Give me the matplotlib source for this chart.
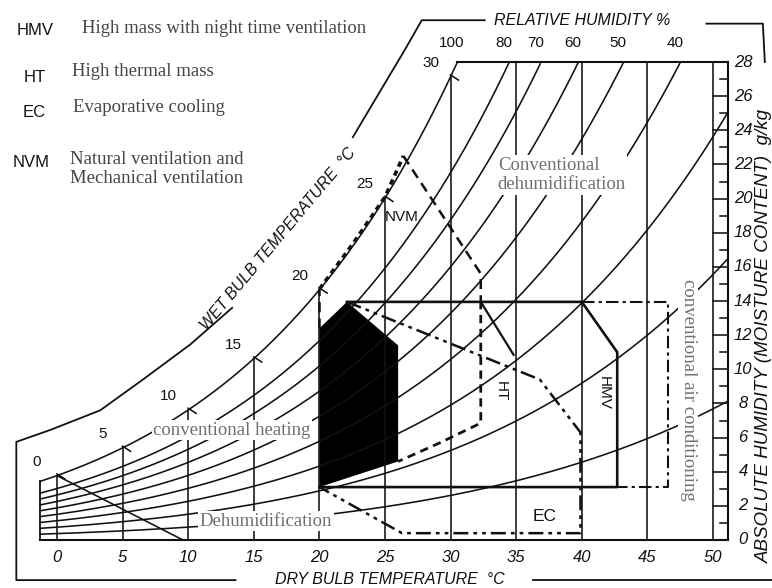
import numpy as np
import matplotlib
matplotlib.use("Agg")
import matplotlib.pyplot as plt

# psychrometric grid
rh_levels = [100, 80, 70, 60, 50, 40, 30, 20, 10]
rh_top_labels = [100, 80, 70, 60, 50, 40]
db_ticks = [0, 5, 10, 15, 20, 25, 30, 35, 40, 45, 50]
w_ticks = list(range(0, 29, 2))
wb_ticks = [0, 5, 10, 15, 20, 25, 30]
wb0_t = [0.0, 9.6]
wb0_w = [3.77, 0.0]

# Givoni zones (dry bulb degC, moisture g/kg)
comfort_t = [20.0, 20.0, 22.1, 26.0, 26.0]
comfort_w = [3.1, 12.4, 13.95, 11.4, 4.6]

nvm_t = [20.0, 20.0, 22.5, 25.0, 26.4, 32.3, 32.3]
nvm_w = [12.4, 14.7, 17.3, 20.1, 22.5, 15.6, 14.0]

ht_dash_t = [32.3, 32.3, 29.2, 26.0]
ht_dash_w = [14.0, 6.85, 5.7, 4.6]
ht_solid_t = [32.3, 34.8]
ht_solid_w = [13.95, 10.85]

mass_t = [22.1, 40.0, 42.7, 42.7, 20.0]
mass_w = [13.95, 13.95, 11.0, 3.1, 3.1]

ac_t = [40.0, 46.6, 46.6, 42.7]
ac_w = [13.95, 13.95, 3.1, 3.1]

ec_t = [22.1, 36.8, 39.9, 39.9, 26.3, 20.0]
ec_w = [13.95, 9.4, 6.3, 0.4, 0.4, 3.1]

# outer frame of the original chart
frame_left_t = [13.6, -3.1, -3.1, -0.5, 3.3, 6.55, 10.15, 13.35]
frame_left_w = [-2.35, -2.35, 5.75, 6.45, 7.6, 9.4, 11.45, 13.6]
frame_top_t = [22.55, 24.6, 26.5, 27.8, 32.6]
frame_top_w = [23.6, 26.25, 28.7, 30.45, 30.45]
frame_right_t = [49.5, 53.8, 53.95]
frame_right_w = [30.25, 30.25, 28.0]
frame_bottom_t = [36.3, 54.6]
frame_bottom_w = [-2.35, -2.35]

legend_abbr = ["HMV", "HT", "EC", "NVM"]
legend_text = ["High mass with night time ventilation", "High thermal mass",
               "Evaporative cooling", "Natural ventilation and\nMechanical ventilation"]

T_LEFT, T_RIGHT, W_TOP = -1.3, 51.14, 28.0
P_ATM = 101.325


def p_sat(t):
    return 0.61094 * np.exp(17.625 * t / (t + 243.04))


def moisture(t, rh):
    pw = rh / 100.0 * p_sat(t)
    return 622.0 * pw / (P_ATM - pw)


sans = "Liberation Sans"
serif = "Liberation Serif"
ink = "#111111"
grey = "#6f6f6f"
grid_lw = 1.15

fig = plt.figure(figsize=(7.72, 5.88), dpi=100)
ax = fig.add_axes([0, 0, 1, 1])
ax.set_xlim(-57 / 13.12, (772 - 57) / 13.12)
ax.set_ylim((540 - 588) / 17.07, 540 / 17.07)
ax.axis("off")

# RH curves
t = np.linspace(T_LEFT, T_RIGHT, 800)
for rh in rh_levels:
    w = moisture(t, rh)
    keep = w <= W_TOP
    ax.plot(t[keep], w[keep], color=ink, lw=grid_lw)
    if rh in rh_top_labels:
        t_end = t[keep][-1]
        ax.annotate(str(rh), (t_end, W_TOP), xytext=(-5, 19), textcoords="offset pixels",
                    ha="center", va="center", fontsize=11, family=sans, color=ink)

# dry bulb verticals
for tb in db_ticks:
    top = min(moisture(tb, 100), W_TOP)
    ax.plot([tb, tb], [0, top], color=ink, lw=grid_lw)
    ax.text(tb, -1.05, str(tb), ha="center", va="center", fontsize=12,
            family=sans, style="italic", color=ink)

# wet bulb scale on saturation curve
for tw in wb_ticks:
    ws = moisture(tw, 100)
    ax.plot([tw, tw + 0.6], [ws + 0.1, ws - 0.2], color=ink, lw=grid_lw)
    ax.annotate(str(tw), (tw, ws), xytext=(-20, 14), textcoords="offset pixels",
                ha="center", va="center", fontsize=11, family=sans, color=ink)
ax.plot(wb0_t, wb0_w, color=ink, lw=grid_lw)

# frame of plot area
ax.plot([T_LEFT, T_RIGHT], [0, 0], color=ink, lw=1.5)
ax.plot([T_LEFT, T_LEFT], [0, moisture(T_LEFT, 100)], color=ink, lw=1.3)
ax.plot([T_RIGHT, T_RIGHT], [0, W_TOP], color=ink, lw=1.5)
t_top0 = t[moisture(t, 100) <= W_TOP][-1]
ax.plot([t_top0, T_RIGHT], [W_TOP, W_TOP], color=ink, lw=1.5)
for wt in range(1, 28):
    start = 50.0 if wt % 2 == 0 else 50.55
    ax.plot([start, T_RIGHT], [wt, wt], color=ink, lw=grid_lw)
for wt in w_ticks:
    ax.text(52.29, wt, str(wt), ha="center", va="center", fontsize=12,
            family=sans, style="italic", color=ink)

# zones
ax.fill(comfort_t, comfort_w, color="black", lw=0)
ax.plot(nvm_t[:2], nvm_w[:2], color=ink, lw=1.8, ls=(0, (4, 2.5)))
ax.plot(nvm_t[1:5], nvm_w[1:5], color=ink, lw=2.6, ls=(0, (1.5, 1.2)))
ax.plot(nvm_t[4:], nvm_w[4:], color=ink, lw=1.8, ls=(0, (4, 2.5)))
ax.plot(ht_dash_t, ht_dash_w, color=ink, lw=2.0, ls=(0, (3, 2)))
ax.plot(ht_solid_t, ht_solid_w, color=ink, lw=1.6)
ax.plot(mass_t, mass_w, color=ink, lw=1.9)
ax.plot(ac_t, ac_w, color=ink, lw=1.5, ls=(0, (6, 2, 1.5, 2)))
ax.plot(ec_t, ec_w, color=ink, lw=1.8, ls=(0, (6, 2, 1.5, 2, 1.5, 2)))

# outer frame
for ft, fw in [(frame_left_t, frame_left_w), (frame_top_t, frame_top_w),
               (frame_right_t, frame_right_w), (frame_bottom_t, frame_bottom_w)]:
    ax.plot(ft, fw, color=ink, lw=1.3)

# axis titles
ax.text(33.3, 30.46, "RELATIVE HUMIDITY %", ha="left", va="center", fontsize=11.5,
        family=sans, style="italic", color=ink)
ax.text(16.6, -2.34, "DRY BULB TEMPERATURE  \u00b0C", ha="left", va="center", fontsize=11.5,
        family=sans, style="italic", color=ink)
ax.text(16.9, 17.6, "WET BULB TEMPERATURE  \u00b0C", ha="center", va="center", fontsize=11.5,
        family=sans, style="italic", color=ink, rotation=50)
ax.text(53.9, 31.6 - 335 / 17.07, "ABSOLUTE HUMIDITY (MOISTURE CONTENT)  g/kg", ha="center",
        va="center", fontsize=13.5, family=sans, style="italic", color=ink, rotation=90)

# zone labels
ax.text(24.95, 18.9, "NVM", ha="left", va="center", fontsize=11, family=sans, color=ink)
ax.text(33.8, 8.7, "HT", ha="center", va="center", fontsize=11, family=sans, color=ink, rotation=270)
ax.text(41.65, 8.6, "HMV", ha="center", va="center", fontsize=11, family=sans, color=ink, rotation=270)
ax.text(37.2, 1.35, "EC", ha="center", va="center", fontsize=12.5, family=sans, color=ink)

# legend
abbr_pos = [(-1.68, 29.82), (-1.68, 27.07), (-1.75, 25.07), (-1.98, 22.09)]
text_pos = [(1.91, 29.99), (1.14, 27.42), (1.22, 25.31), (0.99, 21.74)]
for ab, tx, pa, pt in zip(legend_abbr, legend_text, abbr_pos, text_pos):
    ax.text(pa[0], pa[1], ab, ha="center", va="center", fontsize=12, family=sans, color=ink)
    ax.text(pt[0], pt[1], tx, ha="left", va="center", fontsize=13.5, family=serif,
            color="#454545", linespacing=1.2)

# overlay notes
box = dict(facecolor="white", edgecolor="none", pad=1.0)
ax.text(33.6, 21.38, "Conventional\ndehumidification", ha="left", va="center", fontsize=13.5,
        family=serif, color=grey, linespacing=1.2, bbox=box)
ax.text(13.34, 6.44, "conventional heating", ha="center", va="center", fontsize=13.5,
        family=serif, color=grey, bbox=box)
ax.text(15.93, 1.11, "Dehumidification", ha="center", va="center", fontsize=13.5,
        family=serif, color=grey, bbox=box)
ax.text(48.1, 8.8, "conventional air conditioning", ha="center", va="center", fontsize=13.5,
        family=serif, color=grey, rotation=270, bbox=box)

fig.savefig("out.png", dpi=100, facecolor="white")
